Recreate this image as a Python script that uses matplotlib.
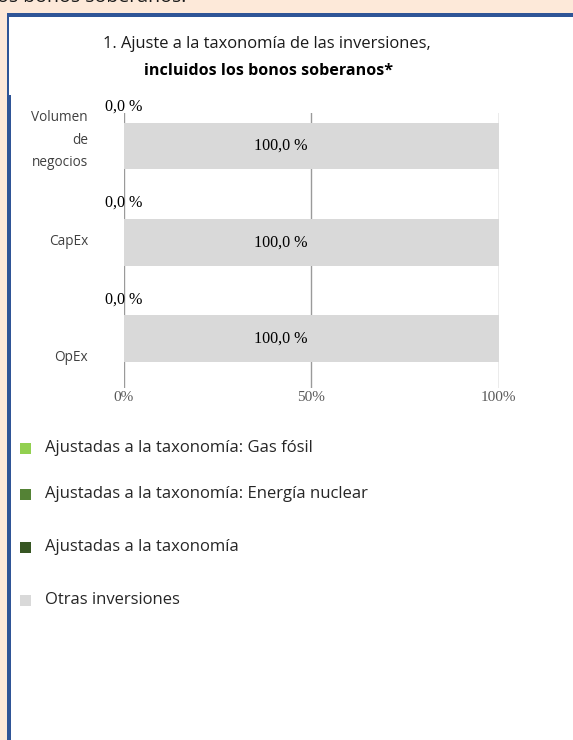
import matplotlib
matplotlib.use("Agg")
import matplotlib.pyplot as plt
from matplotlib.patches import Rectangle
from matplotlib.transforms import offset_copy
import numpy as np

# ---------------- data ----------------
categories = ["Volumen\nde\nnegocios", "CapEx", "OpEx"]
gas_fosil = [0.0, 0.0, 0.0]
energia_nuclear = [0.0, 0.0, 0.0]
ajustadas = [0.0, 0.0, 0.0]
otras = [100.0, 100.0, 100.0]
x_ticks = [0, 50, 100]
x_tick_labels = ["0%", "50%", "100%"]
legend_labels = ["Ajustadas a la taxonomía: Gas fósil",
                 "Ajustadas a la taxonomía: Energía nuclear",
                 "Ajustadas a la taxonomía",
                 "Otras inversiones"]
title_line1 = "1. Ajuste a la taxonomía de las inversiones,"
title_line2 = "incluidos los bonos soberanos*"
top_text = "os bonos soberanos."

# ---------------- style ----------------
W, H = 573, 740
DPI = 100
PEACH = "#FDE9D9"
BLUE = "#2F5597"
C_GAS = "#92D050"
C_NUC = "#548235"
C_ALI = "#375623"
C_OTH = "#D9D9D9"
SANS = ["Open Sans", "DejaVu Sans"]
SERIF = ["Liberation Serif", "DejaVu Serif"]

fig = plt.figure(figsize=(W / DPI, H / DPI), dpi=DPI, facecolor=PEACH)

def px_rect(x0, y0, x1, y1, color, z=0):
    fig.add_artist(Rectangle((x0 / W, 1 - y1 / H), (x1 - x0) / W, (y1 - y0) / H,
                             transform=fig.transFigure, facecolor=color,
                             edgecolor="none", zorder=z))

# frame
px_rect(7, 13, W + 5, H + 5, BLUE, z=-2)
px_rect(11, 16.5, W + 5, H + 5, "white", z=-1.5)
px_rect(9.3, 17, 11, 95, "white", z=-1.5)

# cut-off text at top
fig.text(-3 / W, 1 - 2.5 / H, top_text, family=SANS, fontsize=14,
         color="#1a1a1a", va="baseline", ha="left")

# titles
fig.text(267 / W, 1 - 44 / H, title_line1, family=SANS, fontsize=11.9,
         color="#1a1a1a", ha="center", va="center")
fig.text(268 / W, 1 - 71 / H, title_line2, family=SANS, fontsize=11.6,
         fontweight="bold", color="black", ha="center", va="center")

# axes
ax_l, ax_r, ax_t, ax_b = 123.5, 498.5, 113, 388
ax = fig.add_axes([ax_l / W, 1 - ax_b / H, (ax_r - ax_l) / W, (ax_b - ax_t) / H])
ax.set_zorder(2)
ax.set_facecolor("none")
pos = np.arange(len(categories))
bar_h = 0.487

left = np.zeros(len(categories))
for vals, col in [(gas_fosil, C_GAS), (energia_nuclear, C_NUC),
                  (ajustadas, C_ALI), (otras, C_OTH)]:
    ax.barh(pos, vals, left=left, height=bar_h, color=col, edgecolor="none", zorder=1)
    left = left + np.array(vals)

aligned_total = np.array(gas_fosil) + np.array(energia_nuclear) + np.array(ajustadas)
for p, v in zip(pos, aligned_total):
    ax.text(v, p - 0.41, f"{v:.1f} %".replace(".", ","), family=SERIF,
            fontsize=11.6, color="black", ha="center", va="center", zorder=3)
shift = offset_copy(ax.transData, fig=fig, x=-30, y=0, units="dots")
for p, a, o in zip(pos, aligned_total, otras):
    ax.text(a + o / 2, p, f"{o:.1f} %".replace(".", ","), family=SERIF,
            fontsize=11.6, color="black", ha="center", va="center", zorder=3,
            transform=shift)

ax.set_xlim(0, 100)
ax.set_ylim(2.508, -0.342)
ax.set_xticks(x_ticks)
ax.set_xticklabels(x_tick_labels, family=SERIF, fontsize=11, color="#595959")
ax.grid(axis="x", color="#9a9a9a", linewidth=1.0, zorder=0)
ax.set_axisbelow(True)
for s in ax.spines.values():
    s.set_visible(False)
ax.tick_params(axis="x", length=0, pad=2.5)

label_offsets = [-0.119, -0.036, 0.176]
ax.set_yticks(pos + np.array(label_offsets))
ax.set_yticklabels(categories, family=SANS, fontsize=9.8, color="#404040",
                   linespacing=1.65, ha="right")
ax.tick_params(axis="y", length=0, pad=25.5)

# legend
leg_y = [448, 494, 547, 600]
for y, lab, col in zip(leg_y, legend_labels, [C_GAS, C_NUC, C_ALI, C_OTH]):
    px_rect(20, y - 5.5, 31, y + 5.5, col, z=2)
    fig.text(45 / W, 1 - y / H, lab, family=SANS, fontsize=12.0,
             color="#262626", ha="left", va="center")

fig.savefig("out.png", dpi=DPI, facecolor=PEACH)
